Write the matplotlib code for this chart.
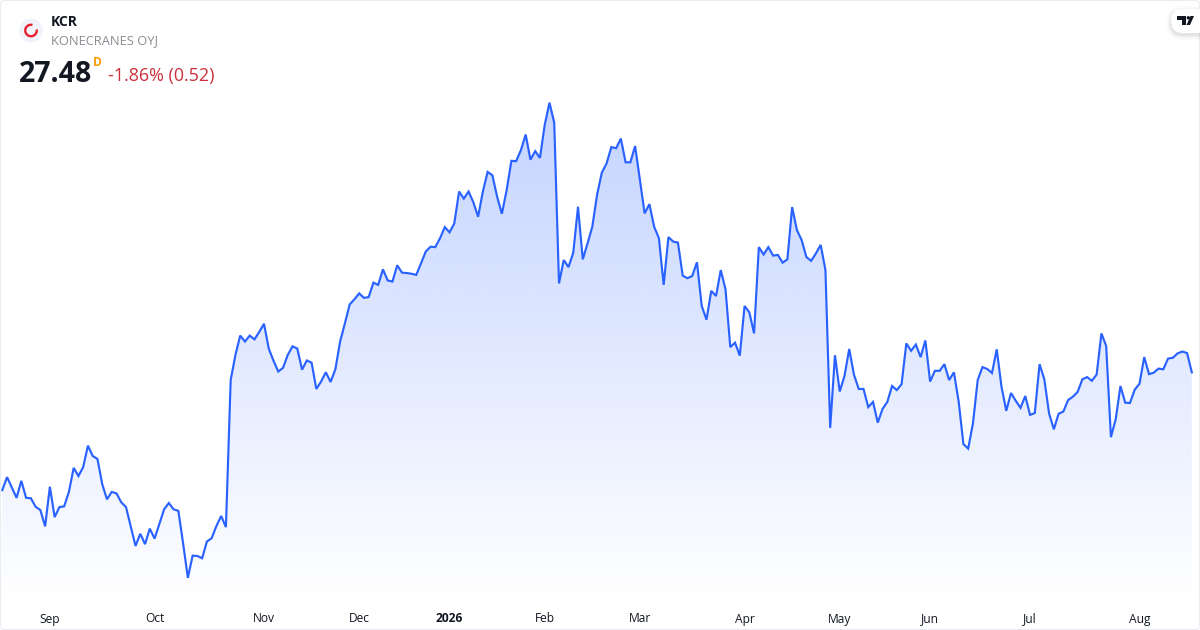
import numpy as np
import matplotlib
matplotlib.use('Agg')
import matplotlib.pyplot as plt
from matplotlib.patches import Circle, Arc, FancyBboxPatch, Polygon

plt.rcParams['font.family'] = ['Open Sans', 'DejaVu Sans']

# daily closes, oldest first
prices = [
    24.30, 24.65, 24.37, 24.09, 24.55, 24.09, 24.08, 23.85, 23.76, 23.32,
    24.39, 23.57, 23.84, 23.86, 24.25, 24.90, 24.68, 24.92, 25.50, 25.22,
    25.14, 24.46, 24.05, 24.25, 24.21, 23.97, 23.84, 23.31, 22.79, 23.12,
    22.84, 23.26, 22.99, 23.38, 23.78, 23.95, 23.78, 23.74, 22.86, 21.93,
    22.53, 22.52, 22.46, 22.91, 23.00, 23.33, 23.60, 23.30, 27.27, 27.95,
    28.47, 28.31, 28.47, 28.37, 28.57, 28.79, 28.12, 27.79, 27.50, 27.60,
    27.95, 28.18, 28.12, 27.55, 27.80, 27.74, 27.03, 27.23, 27.48, 27.22,
    27.56, 28.31, 28.80, 29.31, 29.45, 29.61, 29.49, 29.51, 29.90, 29.84,
    30.26, 29.96, 29.93, 30.37, 30.17, 30.16, 30.14, 30.11, 30.42, 30.74,
    30.87, 30.86, 31.10, 31.40, 31.26, 31.50, 32.36, 32.17, 32.36, 32.07,
    31.68, 32.36, 32.89, 32.80, 32.22, 31.76, 32.40, 33.19, 33.18, 33.48,
    33.90, 33.22, 33.45, 33.27, 34.16, 34.76, 34.22, 29.88, 30.51, 30.32,
    30.71, 31.95, 30.53, 30.96, 31.41, 32.27, 32.87, 33.12, 33.56, 33.53,
    33.79, 33.15, 33.15, 33.59, 32.67, 31.77, 32.02, 31.41, 31.10, 29.84,
    31.13, 31.01, 30.98, 30.09, 30.02, 30.08, 30.45, 29.27, 28.90, 29.68,
    29.54, 30.24, 29.72, 28.16, 28.28, 27.93, 29.27, 29.10, 28.53, 30.86,
    30.66, 30.86, 30.63, 30.65, 30.44, 30.53, 31.94, 31.32, 31.05, 30.59,
    30.49, 30.69, 30.92, 30.24, 25.98, 27.94, 26.96, 27.38, 28.11, 27.41,
    27.03, 27.03, 26.54, 26.68, 26.12, 26.49, 26.68, 27.11, 27.00, 27.16,
    28.26, 28.06, 28.23, 27.89, 28.34, 27.23, 27.52, 27.52, 27.70, 27.27,
    27.48, 26.69, 25.54, 25.42, 26.10, 27.27, 27.62, 27.57, 27.46, 28.10,
    27.09, 26.44, 26.92, 26.71, 26.52, 26.84, 26.33, 26.38, 27.70, 27.29,
    26.37, 25.94, 26.36, 26.42, 26.73, 26.82, 26.95, 27.29, 27.35, 27.25,
    27.42, 28.53, 28.19, 25.73, 26.21, 27.11, 26.66, 26.65, 27.01, 27.17,
    27.89, 27.43, 27.47, 27.58, 27.56, 27.85, 27.87, 27.99, 28.04, 28.00,
    27.48,
]

# first session of each month
month_labels = ['Sep', 'Oct', 'Nov', 'Dec', '2026', 'Feb', 'Mar', 'Apr', 'May', 'Jun', 'Jul', 'Aug']
month_sessions = [10, 32, 55, 75, 94, 114, 134, 156, 176, 195, 216, 239]

symbol = 'KCR'
name = 'KONECRANES OYJ'
last_text = '27.48'
change_text = '-1.86% (0.52)'

LINE = '#2962FF'
TEXT = '#131722'

fig = plt.figure(figsize=(12, 6.3), dpi=100, facecolor='white')
ax = fig.add_axes([0, 0, 1, 1])
ax.set_xlim(-0.483, 251.72)
ax.set_ylim(20.522, 37.532)
for s in ax.spines.values():
    s.set_visible(False)
ax.set_yticks([])

xs = np.arange(len(prices))
ax.plot(xs, prices, color=LINE, lw=1.55, solid_joinstyle='miter', zorder=3)

# area fill, vertical fade clipped to the area under the line
area = ax.fill_between(xs, prices, ax.get_ylim()[0], facecolor='none', edgecolor='none')
grad = np.zeros((256, 1, 4))
grad[..., :3] = matplotlib.colors.to_rgb(LINE)
grad[..., 3] = np.linspace(0.28, 0.0, 256)[:, None]
img = ax.imshow(grad, extent=[xs[0], xs[-1], 21.3, max(prices)], aspect='auto',
                origin='upper', zorder=1, interpolation='bilinear')
ax.set_xlim(-0.483, 251.72)
ax.set_ylim(20.522, 37.532)
img.set_clip_path(area.get_paths()[0], ax.transData)

ax.set_xticks(month_sessions)
ax.set_xticklabels(month_labels)
ax.tick_params(axis='x', length=0, pad=-12.6, labelsize=8.64, labelcolor=TEXT)
for lab in ax.get_xticklabels():
    if lab.get_text() == '2026':
        lab.set_fontweight('bold')

# header, logo and frame drawn in pixel coordinates
ov = fig.add_axes([0, 0, 1, 1], facecolor='none')
ov.set_xlim(0, 1200)
ov.set_ylim(630, 0)
ov.axis('off')

ov.add_patch(FancyBboxPatch((0.5, 0.5), 1199, 629, boxstyle='round,pad=0,rounding_size=4',
                            fc='none', ec='#e9ecf1', lw=0.8))

ov.add_patch(Circle((31, 30.5), 12, fc='#f0f3fa', ec='none'))
ov.add_patch(Arc((31, 30.5), 11.5, 11.5, theta1=-10, theta2=285, ec='#e8202e', lw=1.7))

ov.text(51, 22, symbol, fontsize=10, fontweight='bold', color=TEXT, va='center', ha='left')
ov.text(51, 41, name, fontsize=9.3, color='#8a8d94', va='center', ha='left')
ov.text(19, 75, last_text, fontsize=20.5, fontweight='bold', color=TEXT, va='center', ha='left')
ov.text(93, 62, 'D', fontsize=8.6, fontweight='bold', color='#ff9800', va='center', ha='left')
ov.text(108, 76, change_text, fontsize=12.9, color='#cc2f3c', va='center', ha='left')

# tradingview badge
for grow, a in [(5, 0.015), (3.5, 0.02), (2, 0.03), (1, 0.04)]:
    ov.add_patch(FancyBboxPatch((1171 - grow, 9 - grow + 2), 60 + 2 * grow, 24 + 2 * grow,
                                boxstyle='round,pad=0,rounding_size=%g' % (12 + grow),
                                fc='black', ec='none', alpha=a, clip_on=True))
ov.add_patch(FancyBboxPatch((1171, 9), 60, 24, boxstyle='round,pad=0,rounding_size=12',
                            fc='white', ec='none', clip_on=True))
ov.add_patch(Polygon([(1177, 16), (1186, 16), (1186, 25), (1181.5, 25), (1181.5, 19.5), (1177, 19.5)],
                     fc=TEXT, ec='none'))
ov.add_patch(Circle((1188.3, 17.8), 1.7, fc=TEXT, ec='none'))
ov.add_patch(Polygon([(1190.5, 16), (1194, 16), (1190, 25), (1186.5, 25)], fc=TEXT, ec='none'))

fig.savefig('out.png', dpi=100)
